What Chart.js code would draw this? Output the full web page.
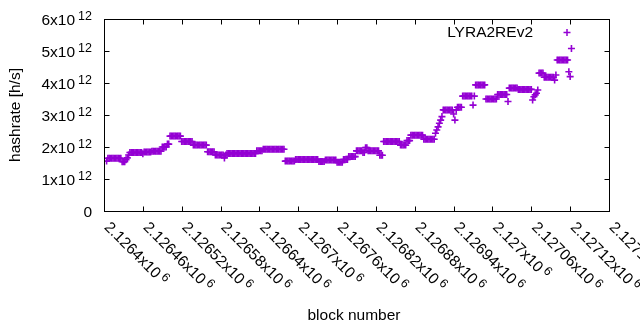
<!DOCTYPE html>
<html>
<head>
<meta charset="utf-8">
<script src="https://cdn.jsdelivr.net/npm/chart.js@4/dist/chart.umd.min.js"></script>
<style>
  body { margin: 0; background: #fff; }
</style>
</head>
<body>
<canvas id="hashrateChart" width="640" height="330"></canvas>
<script>
// block numbers on the x axis: first sampled block and step between samples
const firstBlock = 2126404
const blockStep = 2

// hashrate in units of 10^12 h/s, one value per sampled block
const hashrate = [
    1.56,
    1.65, 1.65, 1.65, 1.65, 1.65, 1.65, 1.65, 1.65, 1.65, 1.65, 1.65,
    1.54, 1.54, 1.54,
    1.60, 1.66, 1.75,
    1.83, 1.83, 1.83, 1.83, 1.83, 1.83, 1.83, 1.83, 1.83, 1.83,
    1.79,
    1.84, 1.84, 1.84, 1.84, 1.84, 1.84,
    1.87, 1.87, 1.87, 1.87, 1.87, 1.87, 1.87, 1.87,
    2.00, 2.00, 2.00, 2.00,
    2.09, 2.09,
    2.34, 2.34, 2.34, 2.34, 2.34, 2.34, 2.34, 2.34, 2.34,
    2.17, 2.17, 2.17, 2.17, 2.17, 2.17, 2.17, 2.17, 2.17,
    2.06, 2.06, 2.06, 2.06, 2.06, 2.06, 2.06, 2.06, 2.06, 2.06, 2.06,
    1.85, 1.85, 1.85, 1.85, 1.85, 1.85,
    1.75, 1.75, 1.75, 1.75, 1.75, 1.75, 1.75, 1.66, 1.75,
    1.80, 1.80, 1.80, 1.80, 1.80, 1.80, 1.80, 1.80, 1.80, 1.80, 1.80, 1.80,
    1.80, 1.80, 1.80, 1.80, 1.80, 1.80, 1.80, 1.80, 1.80, 1.80, 1.80,
    1.88, 1.88, 1.88, 1.88, 1.88,
    1.93, 1.93, 1.93, 1.93, 1.93, 1.93, 1.93, 1.93, 1.93, 1.93, 1.93, 1.93,
    1.93, 1.93, 1.93, 1.93, 1.93,
    1.56, 1.56, 1.56, 1.56, 1.56, 1.56, 1.56, 1.56,
    1.61, 1.61, 1.61, 1.61, 1.61, 1.61, 1.61, 1.61, 1.61, 1.61, 1.61, 1.61,
    1.61, 1.61, 1.61, 1.61, 1.61, 1.61,
    1.55, 1.55, 1.55, 1.55, 1.55,
    1.59, 1.59, 1.59, 1.59, 1.59, 1.59, 1.59, 1.59, 1.59,
    1.52, 1.52, 1.52, 1.52, 1.52,
    1.61, 1.61, 1.61, 1.61,
    1.70, 1.70, 1.70, 1.70, 1.70, 1.70,
    1.88, 1.88, 1.88, 1.88, 1.88,
    1.83, 1.83,
    1.98, 1.98,
    1.88, 1.88, 1.88, 1.88, 1.88, 1.88, 1.88, 1.88, 1.88,
    1.74, 1.74, 1.74,
    2.17, 2.17, 2.17, 2.17, 2.17, 2.17, 2.17, 2.17, 2.17, 2.17, 2.17, 2.17, 2.17,
    2.06, 2.06, 2.06, 2.06, 2.06,
    2.20, 2.20, 2.20,
    2.37, 2.37, 2.37, 2.37, 2.37, 2.37, 2.37, 2.37, 2.37, 2.37,
    2.24, 2.24, 2.24, 2.24, 2.24, 2.24, 2.24, 2.24, 2.24,
    2.43, 2.53, 2.63, 2.74, 2.84, 2.95,
    3.16, 3.16, 3.16, 3.16, 3.16, 3.16, 3.16, 3.16, 3.03, 2.84, 3.16,
    3.24, 3.24, 3.24, 3.24,
    3.59, 3.59, 3.59, 3.59, 3.59, 3.59, 3.59, 3.59, 3.31, 3.59,
    3.94, 3.94, 3.94, 3.94, 3.94, 3.94, 3.94, 3.94,
    3.50, 3.50, 3.50, 3.50, 3.50, 3.50, 3.50, 3.50, 3.50,
    3.64, 3.64, 3.64, 3.64, 3.64, 3.64, 3.64, 3.64,
    3.42,
    3.84, 3.84, 3.84, 3.84, 3.84, 3.84, 3.84,
    3.80, 3.80, 3.80, 3.80, 3.80, 3.80, 3.80, 3.80, 3.80, 3.80, 3.80,
    3.47, 3.57, 3.63, 3.68, 3.78,
    4.31, 4.31, 4.31, 4.31,
    4.18, 4.18, 4.18, 4.18, 4.18, 4.18, 4.18, 4.18, 4.09, 4.25,
    4.72, 4.72, 4.72, 4.72, 4.72, 4.72, 4.72, 4.72, 4.72,
    4.35, 4.20, 5.08
]

// tick labels, gnuplot style mantissa x10^exponent
const xTicks = [2126400, 2126460, 2126520, 2126580, 2126640, 2126700, 2126760,
    2126820, 2126880, 2126940, 2127000, 2127060, 2127120, 2127180]
const xTickLabels = ['2.1264', '2.12646', '2.12652', '2.12658', '2.12664', '2.1267', '2.12676',
    '2.12682', '2.12688', '2.12694', '2.127', '2.12706', '2.12712', '2.12718']
const xExponent = '6'
const yTicks = [0, 1, 2, 3, 4, 5, 6]
const yTickLabels = ['0', '1', '2', '3', '4', '5', '6']
const yExponent = '12'

const seriesName = 'LYRA2REv2'
const purple = '#9400d3'
const font = "15.5px 'Liberation Sans', Arial, sans-serif"
const supFont = "12.5px 'Liberation Sans', Arial, sans-serif"

//Draws the gnuplot-like frame, inward ticks, tick labels, titles and key
const gnuplotDecor = {
    id: 'gnuplotDecor',
    afterDraw(chart) {
        const c = chart.ctx
        const a = chart.chartArea
        const xs = chart.scales.x
        const ys = chart.scales.y
        c.save()
        c.strokeStyle = '#000'
        c.lineWidth = 1
        c.beginPath()
        xTicks.forEach((v) => {
            const px = Math.round(xs.getPixelForValue(v)) + 0.5
            c.moveTo(px, a.bottom + 0.5)
            c.lineTo(px, a.bottom - 4.5)
            c.moveTo(px, a.top + 0.5)
            c.lineTo(px, a.top + 5.5)
        })
        yTicks.forEach((v) => {
            const py = Math.round(ys.getPixelForValue(v)) + 0.5
            c.moveTo(a.left + 0.5, py)
            c.lineTo(a.left + 5.5, py)
            c.moveTo(a.right + 0.5, py)
            c.lineTo(a.right - 4.5, py)
        })
        c.stroke()
        c.strokeRect(a.left + 0.5, a.top + 0.5, a.right - a.left, a.bottom - a.top)

        c.fillStyle = '#000'
        c.textBaseline = 'alphabetic'
        c.textAlign = 'left'

        // y tick labels
        yTicks.forEach((v, i) => {
            const py = ys.getPixelForValue(v)
            const main = v === 0 ? yTickLabels[i] : yTickLabels[i] + 'x10'
            c.font = font
            const w = c.measureText(main).width
            let supW = 0
            if (v !== 0) {
                c.font = supFont
                supW = c.measureText(yExponent).width + 3
            }
            const x0 = 92 - w - supW
            c.font = font
            c.fillText(main, x0, py + 5.5)
            if (v !== 0) {
                c.font = supFont
                c.fillText(yExponent, x0 + w + 3, py + 0.5)
            }
        })

        // x tick labels, rotated 45 degrees downwards
        xTicks.forEach((v, i) => {
            const px = xs.getPixelForValue(v)
            c.save()
            c.translate(px + 3.5, a.bottom + 13)
            c.rotate(Math.PI / 4)
            c.font = font
            const main = xTickLabels[i] + 'x10'
            const w = c.measureText(main).width
            c.fillText(main, 0, 5.5)
            c.font = supFont
            c.fillText(xExponent, w + 3, 0.5)
            c.restore()
        })

        // axis titles
        c.font = font
        c.textAlign = 'center'
        c.textBaseline = 'middle'
        c.fillText('block number', 354, 316)
        c.save()
        c.translate(16, (a.top + a.bottom) / 2)
        c.rotate(-Math.PI / 2)
        c.fillText('hashrate [h/s]', 0, 0)
        c.restore()

        // key
        c.textAlign = 'right'
        c.textBaseline = 'alphabetic'
        c.fillText(seriesName, 533, 37)
        c.strokeStyle = purple
        c.lineWidth = 1.5
        c.beginPath()
        c.moveTo(563.5, 32.5)
        c.lineTo(570.5, 32.5)
        c.moveTo(567, 29)
        c.lineTo(567, 36)
        c.stroke()
        c.restore()
    }
}

window.addEventListener('load', (event) => {

    //Create the hashrate scatter plot
    var ctx = document.getElementById('hashrateChart')

    const datasetHashrate = {
        label: seriesName,
        data: hashrate.map((v, i) => ({ x: firstBlock + i * blockStep, y: v })),
        showLine: false,
        pointStyle: 'cross',
        pointRadius: 3.5,
        pointHoverRadius: 3.5,
        pointBorderWidth: 1.6,
        borderColor: purple,
        backgroundColor: purple
    }

    new Chart(ctx, {
        type: 'scatter',
        data: {
            datasets: [datasetHashrate]
        },
        options: {
            responsive: false,
            animation: false,
            layout: {
                padding: { left: 104, right: 31, top: 19, bottom: 119 }
            },
            scales: {
                x: {
                    type: 'linear',
                    display: false,
                    min: xTicks[0],
                    max: xTicks[xTicks.length - 1]
                },
                y: {
                    display: false,
                    min: yTicks[0],
                    max: yTicks[yTicks.length - 1]
                }
            },
            plugins: {
                legend: { display: false },
                tooltip: { enabled: false }
            }
        },
        plugins: [gnuplotDecor]
    })

});
</script>
</body>
</html>
